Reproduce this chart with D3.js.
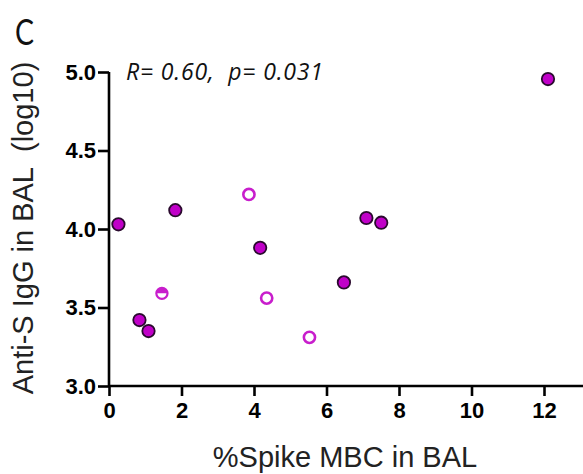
<!DOCTYPE html>
<html><head><meta charset="utf-8">
<script src="https://cdn.jsdelivr.net/npm/d3@7"></script>
<style>body{margin:0;background:#fff}svg{display:block}</style>
</head><body>
<script>
// Data
const filledX = [0.26, 0.84, 1.09, 1.83, 4.17, 6.48, 7.10, 7.51, 12.11];
const filledY = [4.03, 3.42, 3.35, 4.12, 3.88, 3.66, 4.07, 4.04, 4.955];
const openX = [3.86, 4.35, 5.53];
const openY = [4.22, 3.56, 3.31];
const halfX = [1.46];
const halfY = [3.59];
const xTicks = [0, 2, 4, 6, 8, 10, 12];
const yTicks = [3.0, 3.5, 4.0, 4.5, 5.0];

const W = 583, H = 474;
const SANS = "Liberation Sans, Arial, Helvetica, sans-serif";
const svg = d3.select("body").append("svg").attr("width", W).attr("height", H);

const x = d3.scaleLinear().domain([0, 12]).range([109, 544]);
const y = d3.scaleLinear().domain([3, 5]).range([386, 72]);

const magenta = "#c000c8";
const dark = "#2a0a2e";

// Y axis
const gy = svg.append("g").attr("transform", `translate(${x(0)},0)`)
  .call(d3.axisLeft(y).tickValues(yTicks).tickFormat(d3.format(".1f")).tickSize(11).tickPadding(2));
// X axis
const gx = svg.append("g").attr("transform", `translate(0,${y(3)})`)
  .call(d3.axisBottom(x).tickValues(xTicks).tickFormat(d3.format("d")).tickSize(10).tickPadding(6));
gx.select(".domain").attr("d", `M${x(0)},0H${W + 5}`);
gy.select(".domain").attr("d", `M0,${y(5)}V${y(3)}`);

[gx, gy].forEach(g => {
  g.attr("font-family", SANS).attr("font-size", 22).attr("font-weight", "bold");
  g.selectAll(".domain, .tick line").attr("stroke", "#000").attr("stroke-width", 2.6);
  g.selectAll(".tick text").attr("fill", "#000");
});

// Filled points
svg.append("g").selectAll("circle").data(filledX).join("circle")
  .attr("cx", (d) => x(d)).attr("cy", (d, i) => y(filledY[i])).attr("r", 6.2)
  .attr("fill", magenta).attr("stroke", dark).attr("stroke-width", 1.8);

// Open points
svg.append("g").selectAll("circle").data(openX).join("circle")
  .attr("cx", (d) => x(d)).attr("cy", (d, i) => y(openY[i])).attr("r", 5.6)
  .attr("fill", "#fff").attr("stroke", "#c81ecc").attr("stroke-width", 2.6);

// Half-filled points
const hg = svg.append("g").selectAll("g").data(halfX).join("g")
  .attr("transform", (d, i) => `translate(${x(d)},${y(halfY[i])})`);
hg.append("circle").attr("r", 5.6).attr("fill", "#fff").attr("stroke", "#c81ecc").attr("stroke-width", 2.2);
hg.append("path").attr("d", d3.arc()({innerRadius: 0, outerRadius: 5.6, startAngle: -Math.PI/2, endAngle: Math.PI/2}))
  .attr("fill", "#c81ecc");

// Axis titles
svg.append("text").attr("x", 345).attr("y", 467).attr("text-anchor", "middle")
  .attr("font-family", SANS).attr("font-size", 29)
  .attr("fill", "#222").text("%Spike MBC in BAL");
svg.append("text").attr("transform", "translate(33,228) rotate(-90)").attr("text-anchor", "middle")
  .attr("font-family", SANS).attr("font-size", 29)
  .attr("fill", "#222").attr("xml:space", "preserve").text("Anti-S IgG in BAL  (log10)");

// Panel letter
svg.append("text").attr("x", 15).attr("y", 45)
  .attr("font-family", "Lato, Open Sans, sans-serif").attr("font-size", 37)
  .attr("textLength", 19).attr("lengthAdjust", "spacingAndGlyphs")
  .attr("fill", "#111").text("C");

// Stats annotation
svg.append("text").attr("x", 126).attr("y", 80).attr("xml:space", "preserve")
  .attr("font-family", "Open Sans, Liberation Sans, sans-serif").attr("font-style", "italic").attr("font-size", 23)
  .attr("textLength", 197).attr("lengthAdjust", "spacing")
  .attr("fill", "#111").text("R= 0.60,  p= 0.031");
</script>
</body></html>
